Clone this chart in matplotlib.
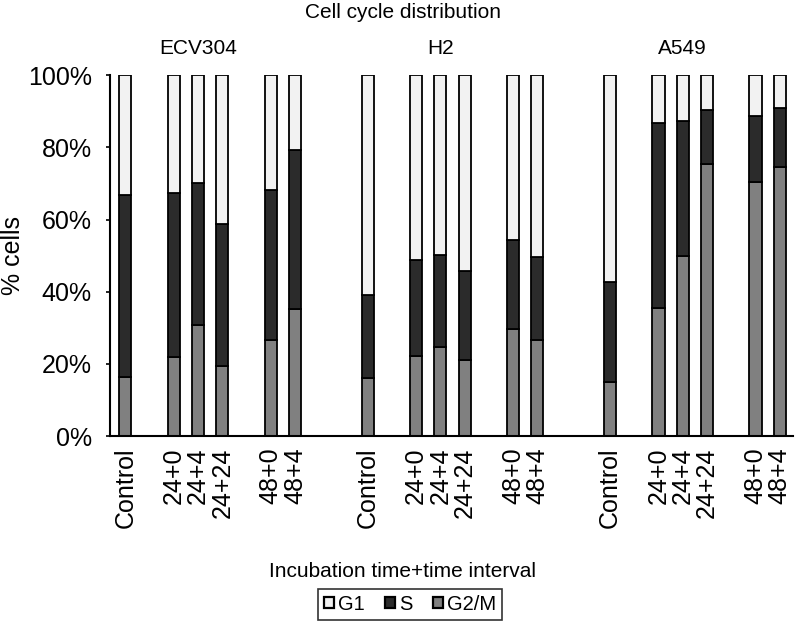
import matplotlib.pyplot as plt
import numpy as np

plt.rcParams['font.family'] = ['Liberation Sans', 'DejaVu Sans']

cell_lines = ['ECV304', 'H2', 'A549']
conditions = ['Control', '24+0', '24+4', '24+24', '48+0', '48+4']

# % cells in G2/M and cumulative top of S (G2/M + S)
g2m = {
    'ECV304': [16.3, 21.8, 30.7, 19.5, 26.6, 35.1],
    'H2':     [16.0, 22.3, 24.7, 21.2, 29.7, 26.5],
    'A549':   [14.9, 35.6, 49.9, 75.3, 70.4, 74.6],
}
s_top = {
    'ECV304': [66.8, 67.4, 70.1, 58.9, 68.1, 79.2],
    'H2':     [39.1, 48.7, 50.2, 45.7, 54.2, 49.7],
    'A549':   [42.7, 86.7, 87.4, 90.3, 88.8, 91.0],
}

# slot offsets inside one group (gaps between sub-groups)
slot_offsets = [0, 2, 3, 4, 6, 7]
group_step = 10

col_g1 = '#f2f2f2'
col_s = '#2b2b2b'
col_g2m = '#808080'

fig = plt.figure(figsize=(7.96, 6.32), dpi=100)
ax = fig.add_axes([0.138, 0.310, 0.858, 0.571])

xs, labels = [], []
for gi, line in enumerate(cell_lines):
    x = np.array(slot_offsets) + gi * group_step
    g = np.array(g2m[line])
    s = np.array(s_top[line]) - g
    g1 = 100 - np.array(s_top[line])
    kw = dict(width=0.5, edgecolor='black', linewidth=1.3)
    ax.bar(x, g, color=col_g2m, label='G2/M' if gi == 0 else None, **kw)
    ax.bar(x, s, bottom=g, color=col_s, label='S' if gi == 0 else None, **kw)
    ax.bar(x, g1, bottom=g + s, color=col_g1, label='G1' if gi == 0 else None, **kw)
    ax.text(x[2], 107.5, line, ha='center', va='center', fontsize=15)
    xs.extend(x)
    labels.extend(conditions)

ax.set_xlim(-0.64, 27.54)
ax.set_ylim(0, 100)
ax.set_xticks(xs)
ax.set_xticklabels(labels, rotation=90, fontsize=18)
ax.set_yticks(np.arange(0, 101, 20))
ax.set_yticklabels([f'{v}%' for v in range(0, 101, 20)], fontsize=18)
ax.tick_params(axis='x', length=0, pad=8)
ax.tick_params(axis='y', length=3, width=1.2, pad=10)
for side in ['top', 'right']:
    ax.spines[side].set_visible(False)
for side in ['left', 'bottom']:
    ax.spines[side].set_linewidth(1.5)

fig.text(0.016, 0.596, '% cells', rotation=90, ha='center', va='center', fontsize=18)
fig.text(0.506, 0.981, 'Cell cycle distribution', ha='center', va='center', fontsize=15)
fig.text(0.506, 0.095, 'Incubation time+time interval', ha='center', va='center', fontsize=15)

handles, hl = ax.get_legend_handles_labels()
order = [2, 1, 0]
leg = fig.legend([handles[i] for i in order], [hl[i] for i in order],
                 loc='center', bbox_to_anchor=(0.515, 0.044), ncol=3, fontsize=14.5,
                 frameon=True, fancybox=False, edgecolor='black',
                 handlelength=0.5, handleheight=0.5, handletextpad=0.2,
                 columnspacing=1.0, borderpad=0.3, borderaxespad=0)
leg.get_frame().set_linewidth(1.2)
for h in leg.legend_handles:
    h.set_linewidth(1.6)

fig.savefig('out.png', dpi=100)
